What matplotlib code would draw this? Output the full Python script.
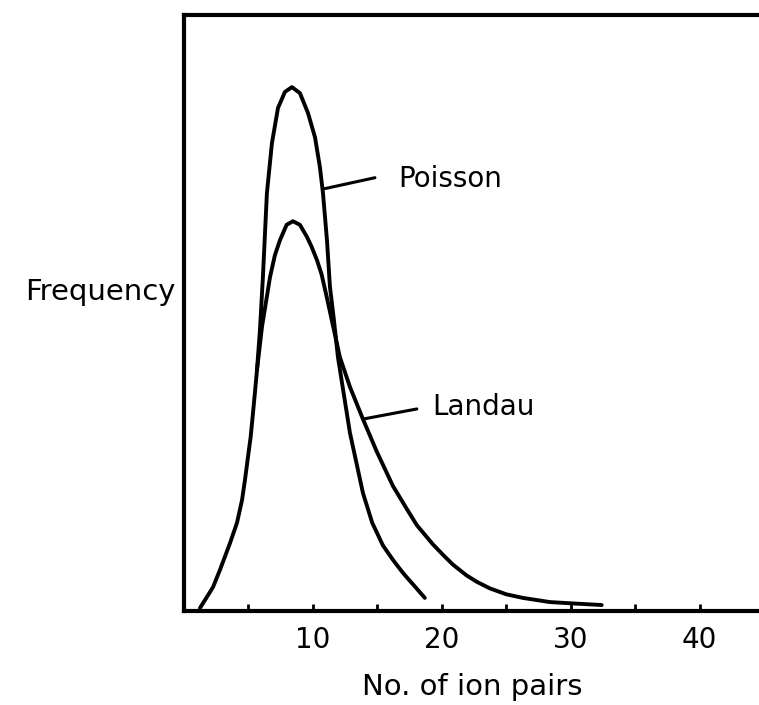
import matplotlib
matplotlib.use("Agg")
import matplotlib.pyplot as plt

# Values (x = no. of ion pairs, y = frequency, arbitrary units)
landau_x = [1.24, 2.25, 2.79, 3.57, 4.11, 4.50, 4.73, 4.96, 5.17, 5.35, 5.50, 5.66,
            6.05, 6.67, 7.05, 7.44, 7.96, 8.45, 8.99, 9.53, 9.90, 10.31, 10.67,
            11.09, 12.09, 12.87, 13.88, 14.94, 16.20, 17.26, 18.06, 19.30, 20.10,
            20.85, 21.90, 22.71, 23.72, 25.00, 26.28, 28.37, 29.92, 32.40]
landau_y = [0.5, 4.0, 6.9, 11.4, 14.8, 18.6, 22.0, 25.8, 29.2, 33.2, 36.6, 40.4,
            47.7, 56.0, 59.7, 62.2, 64.8, 65.4, 64.8, 62.8, 61.1, 58.9, 56.5,
            52.5, 42.6, 37.6, 32.2, 26.8, 21.0, 17.2, 14.4, 11.2, 9.4,
            7.8, 6.0, 4.9, 3.8, 2.8, 2.2, 1.5, 1.3, 1.0]

poisson_x = [5.66, 5.89, 6.12, 6.43, 6.82, 7.29, 7.83, 8.37, 8.99, 9.61, 10.16,
             10.54, 10.78, 11.09, 11.32, 11.63, 11.94, 12.87, 13.88, 14.60, 15.43,
             16.20, 16.98, 18.68]
poisson_y = [40.4, 47.1, 56.0, 70.1, 78.5, 84.4, 87.1, 87.9, 86.9, 83.6, 79.5,
             74.5, 70.1, 62.2, 54.4, 48.8, 42.6, 29.9, 19.8, 14.8, 11.0,
             8.6, 6.4, 2.2]

# leader lines from the curve labels to the curves
poisson_leader_x = [10.78, 14.81]
poisson_leader_y = [70.8, 72.7]
landau_leader_x = [13.88, 18.06]
landau_leader_y = [32.2, 33.9]

major_ticks = [10, 20, 30, 40]
minor_ticks = [5, 15, 25, 35]

plt.rcParams['font.family'] = ['DejaVu Sans']

fig = plt.figure(figsize=(7.59, 7.05), dpi=100)
ax = fig.add_axes([184 / 759, 94 / 705, 1 - 184 / 759, 596 / 705])

lw = 2.8
ax.plot(landau_x, landau_y, color="black", lw=lw, solid_joinstyle="round", solid_capstyle="round")
ax.plot(poisson_x, poisson_y, color="black", lw=lw, solid_joinstyle="round", solid_capstyle="round")

ax.plot(poisson_leader_x, poisson_leader_y, color="black", lw=2.2, solid_capstyle="round")
ax.plot(landau_leader_x, landau_leader_y, color="black", lw=2.2, solid_capstyle="round")
ax.text(16.59, 71.1, "Poisson", fontsize=20, va="baseline")
ax.text(19.22, 32.9, "Landau", fontsize=20, va="baseline")

ax.set_xlim(0, 44.6)
ax.set_ylim(0, 100)

ax.spines["right"].set_visible(False)
for side in ["left", "bottom", "top"]:
    ax.spines[side].set_linewidth(3)

ax.set_xticks(major_ticks)
ax.set_xticks(minor_ticks, minor=True)
ax.tick_params(axis="x", which="both", direction="in", length=5, width=2, labelsize=20, pad=11)
ax.set_yticks([])

fig.text(176 / 759, (705 - 300) / 705, "Frequency", fontsize=21, ha="right", va="baseline")
fig.text(472 / 759, (705 - 695) / 705, "No. of ion pairs", fontsize=21, ha="center", va="baseline")

fig.savefig("out.png", dpi=100)
